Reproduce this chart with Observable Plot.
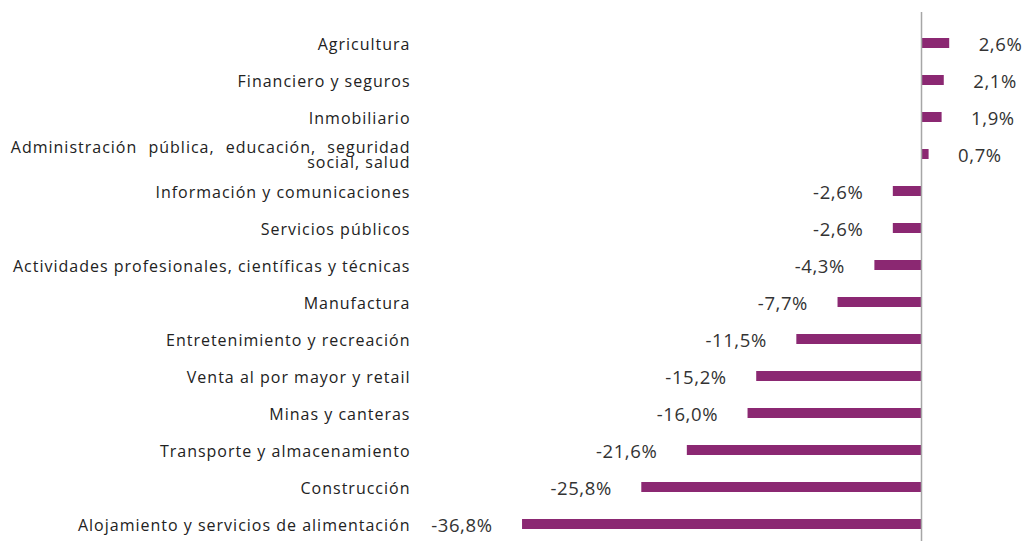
<!DOCTYPE html>
<html>
<head>
<meta charset="utf-8">
<script src="https://cdn.jsdelivr.net/npm/d3@7"></script>
<script src="https://cdn.jsdelivr.net/npm/@observablehq/plot@0.6"></script>
<style>
  html, body { margin: 0; padding: 0; background: #fff; }
  #chart svg { display: block; }
</style>
</head>
<body>
<div id="chart"></div>
<script>
const categories = [
  "Agricultura",
  "Financiero y seguros",
  "Inmobiliario",
  "Administración pública, educación, seguridad\nsocial, salud",
  "Información y comunicaciones",
  "Servicios públicos",
  "Actividades profesionales, científicas y técnicas",
  "Manufactura",
  "Entretenimiento y recreación",
  "Venta al por mayor y retail",
  "Minas y canteras",
  "Transporte y almacenamiento",
  "Construcción",
  "Alojamiento y servicios de alimentación"
];
const values = [2.6, 2.1, 1.9, 0.7, -2.6, -2.6, -4.3, -7.7, -11.5, -15.2, -16.0, -21.6, -25.8, -36.8];

const data = categories.map((c, i) => ({
  cat: c,
  value: values[i],
  label: values[i].toFixed(1).replace(".", ",") + "%"
}));
const single = data.filter(d => !d.cat.includes("\n"));
const multi = data.filter(d => d.cat.includes("\n"));
const pos = data.filter(d => d.value >= 0);
const neg = data.filter(d => d.value < 0);

const catStyle = { fontSize: 16, fill: "#222" };
const valStyle = { fontSize: 18.5, fill: "#333" };

const chart = Plot.plot({
  width: 1024,
  height: 541,
  marginTop: 12,
  marginBottom: 0,
  marginLeft: 412,
  marginRight: 0,
  style: { fontFamily: "'Open Sans', sans-serif", background: "#fff" },
  x: { domain: [-46.95, 9.5], axis: null },
  y: { domain: categories, range: [18.7, 547.9], paddingInner: 0.738, paddingOuter: 0.369, axis: null },
  marks: [
    Plot.barX(data, { x: "value", y: "cat", fill: "#8b2872" }),
    Plot.ruleX([0], { stroke: "#a6a6a6", strokeWidth: 1.5 }),
    Plot.text(single, {
      y: "cat", text: "cat", frameAnchor: "left", dx: -2, textAnchor: "end",
      dy: 1.5, ...catStyle, className: "cat-label"
    }),
    Plot.text(multi, {
      y: "cat", text: "cat", frameAnchor: "left", dx: -2, textAnchor: "end",
      lineAnchor: "top", dy: -12, lineHeight: 0.92, ...catStyle, className: "cat-multi"
    }),
    Plot.text(pos, {
      x: "value", y: "cat", text: "label", textAnchor: "start",
      dx: 29, dy: 1.5, ...valStyle, className: "val-label"
    }),
    Plot.text(neg, {
      x: "value", y: "cat", text: "label", textAnchor: "end",
      dx: -30, dy: 1.5, ...valStyle, className: "val-label"
    })
  ]
});

const css = document.createElementNS("http://www.w3.org/2000/svg", "style");
css.textContent = `
  .cat-label text, .cat-multi text { letter-spacing: 1px; }
  .cat-multi tspan:first-child { word-spacing: 6px; }
  .val-label text { letter-spacing: 0.6px; }
`;
chart.prepend(css);
document.getElementById("chart").append(chart);
</script>
</body>
</html>
